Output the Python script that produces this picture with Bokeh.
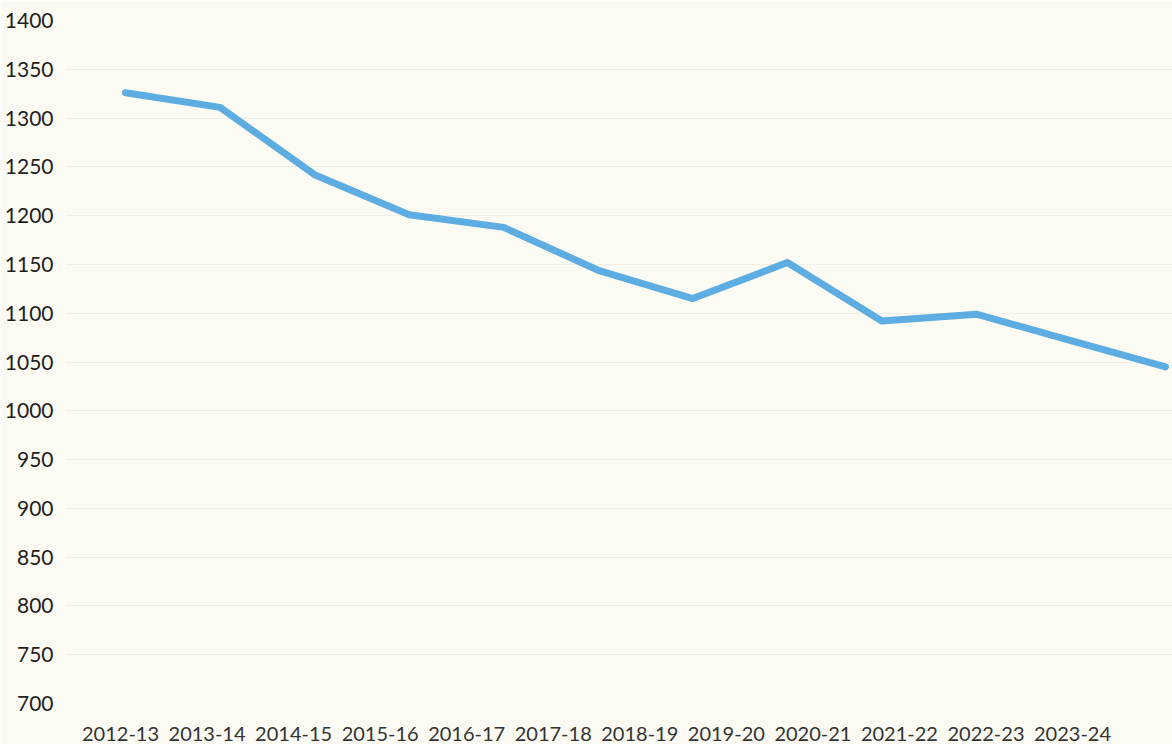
from bokeh.plotting import figure
from bokeh.models import Range1d, LinearAxis, FixedTicker
from bokeh.embed import file_html
from bokeh.resources import INLINE

years = ["2012-13", "2013-14", "2014-15", "2015-16", "2016-17", "2017-18",
         "2018-19", "2019-20", "2020-21", "2021-22", "2022-23", "2023-24"]
values = [1326, 1311, 1242, 1201, 1188, 1144, 1115, 1152, 1092, 1099, 1072, 1045]
y_ticks = list(range(700, 1401, 50))

xs = list(range(len(years)))

p = figure(width=1172, height=744, output_backend="svg", toolbar_location=None,
           x_range=Range1d(-0.6346, 11.074), y_range=Range1d(700, 1400),
           x_axis_location=None, min_border_left=65, min_border_right=0,
           min_border_top=20, min_border_bottom=41)
p.extra_x_ranges = {"lab": Range1d(-0.6355, 12.155)}
p.background_fill_color = "#fbfbf4"
p.border_fill_color = "#fbfbf4"
p.outline_line_color = None

p.line(xs, values, line_color="#5dade2", line_width=7, line_join="round", line_cap="round")

p.yaxis.ticker = FixedTicker(ticks=y_ticks)
p.yaxis.axis_line_color = None
p.yaxis.major_tick_line_color = None
p.yaxis.minor_tick_line_color = None
p.yaxis.major_label_standoff = 6
p.yaxis.major_label_text_font = "Lato"
p.yaxis.major_label_text_font_size = "21px"
p.yaxis.major_label_text_color = "#1e1e1e"

p.ygrid.ticker = FixedTicker(ticks=y_ticks)
p.ygrid.grid_line_color = "#efefe6"
p.ygrid.grid_line_width = 1
p.xgrid.grid_line_color = None

xaxis = LinearAxis(x_range_name="lab", ticker=FixedTicker(ticks=xs),
                   major_label_overrides={i: y for i, y in enumerate(years)})
xaxis.axis_line_color = None
xaxis.major_tick_line_color = None
xaxis.minor_tick_line_color = None
xaxis.major_label_standoff = 17
xaxis.major_label_text_font = "Lato"
xaxis.major_label_text_font_size = "20px"
xaxis.major_label_text_color = "#333333"
p.add_layout(xaxis, "below")

open("out.html", "w").write(file_html(p, INLINE))
